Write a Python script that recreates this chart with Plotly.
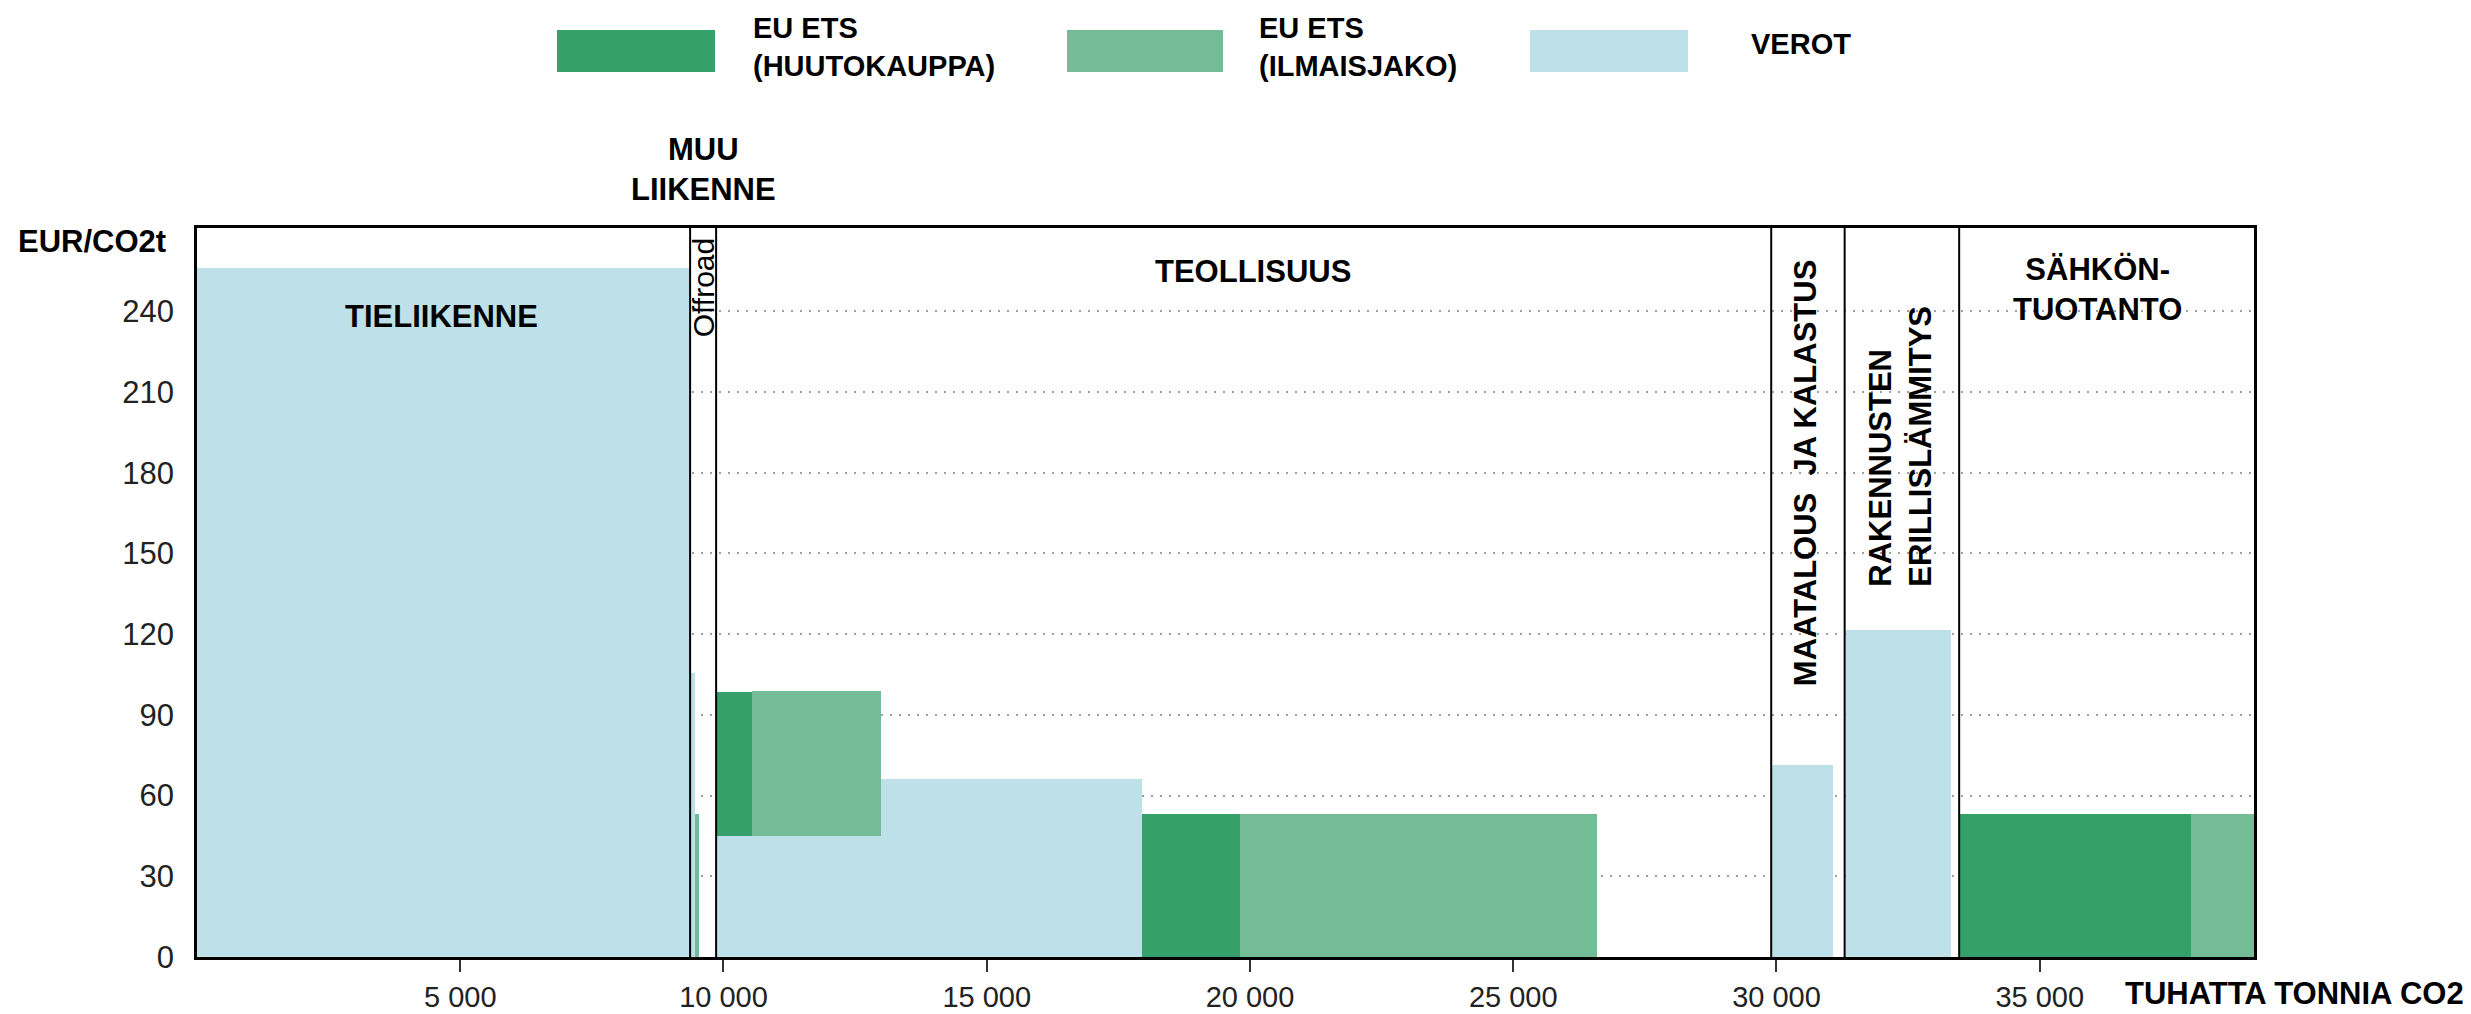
import plotly.graph_objects as go

# Segmentit: alku, loppu (tuhatta t CO2), alaraja, yläraja (EUR/CO2t)
verot_start = [0, 9379, 9860, 12993, 29915, 31320]
verot_end = [9366, 9460, 12993, 17948, 31080, 33320]
verot_base = [0, 0, 0, 0, 0, 0]
verot_top = [256, 105.6, 45, 66, 71.5, 121.5]

huuto_start = [9860, 17948, 33470]
huuto_end = [10543, 19812, 37880]
huuto_base = [45, 0, 0]
huuto_top = [98.5, 53.3, 53.3]

ilmais_start = [9460, 10543, 19812, 37880]
ilmais_end = [9535, 12993, 26584, 39070]
ilmais_base = [0, 45, 0, 0]
ilmais_top = [53.3, 98.8, 53.3, 53.3]

# sektorien rajat
sector_edges = [9366, 9860, 29900, 31295, 33470]

x_tickvals = [5000, 10000, 15000, 20000, 25000, 30000, 35000]
x_ticktext = ["5 000", "10 000", "15 000", "20 000", "25 000", "30 000", "35 000"]
y_tickvals = [0, 30, 60, 90, 120, 150, 180, 210, 240]

C_HUUTO = "#35A06A"
C_ILMAIS = "#73BC95"
C_VEROT = "#BEE0E8"

BOLD = dict(family="Liberation Sans, Arial, sans-serif", size=31, color="black", weight="bold")
LEG = dict(BOLD, size=29)
NARROW = "Liberation Sans Narrow, Arial Narrow, Liberation Sans, sans-serif"

# sivun body-marginaali 8px siirtää kuvaa
OFF = 8
W, H = 2471 - OFF, 1014 - OFF
L, T = 197 - OFF, 228 - OFF
R = W - (2254 - OFF)
B = H - (957 - OFF)


def px(x, y):
    # ikkunan pikselit -> paper-koordinaatit
    x, y = x - OFF, y - OFF
    return (x - L) / (W - L - R), (H - B - y) / (H - T - B)


def bars(start, end, base, top, color, name):
    return go.Bar(
        x=[(s + e) / 2 for s, e in zip(start, end)],
        width=[e - s for s, e in zip(start, end)],
        base=base,
        y=[t - b for t, b in zip(top, base)],
        marker=dict(color=color, line=dict(width=0)),
        name=name,
        showlegend=False,
    )


fig = go.Figure()
fig.add_trace(bars(verot_start, verot_end, verot_base, verot_top, C_VEROT, "VEROT"))
fig.add_trace(bars(huuto_start, huuto_end, huuto_base, huuto_top, C_HUUTO, "EU ETS (HUUTOKAUPPA)"))
fig.add_trace(bars(ilmais_start, ilmais_end, ilmais_base, ilmais_top, C_ILMAIS, "EU ETS (ILMAISJAKO)"))

for xe in sector_edges:
    fig.add_shape(type="line", xref="x", yref="paper", x0=xe, x1=xe, y0=0, y1=1,
                  line=dict(color="black", width=2), layer="above")

# selite
legend_items = [
    (557, 715, C_HUUTO, 752, 47, "EU ETS<br>(HUUTOKAUPPA)"),
    (1067, 1223, C_ILMAIS, 1258, 47, "EU ETS<br>(ILMAISJAKO)"),
    (1530, 1688, C_VEROT, 1750, 44, "VEROT"),
]
for x0, x1, col, tx, ty, txt in legend_items:
    a0, b0 = px(x0, 72)
    a1, b1 = px(x1, 30)
    fig.add_shape(type="rect", xref="paper", yref="paper", x0=a0, x1=a1, y0=b0, y1=b1,
                  fillcolor=col, line=dict(width=0))
    ax, ay = px(tx, ty)
    fig.add_annotation(xref="paper", yref="paper", x=ax, y=ay, text=txt, showarrow=False,
                       xanchor="left", yanchor="middle", align="left", borderpad=0, font=LEG)

# sektorien nimet
fig.add_annotation(x=4640, y=238, text="TIELIIKENNE", showarrow=False, font=BOLD)
fig.add_annotation(x=20050, y=255, text="TEOLLISUUS", showarrow=False, font=BOLD)
fig.add_annotation(x=36100, y=248, text="SÄHKÖN-<br>TUOTANTO", showarrow=False, font=BOLD)
fig.add_annotation(x=30549, y=180, text="MAATALOUS\u00a0 JA KALASTUS", textangle=-90,
                   showarrow=False, font=BOLD)
fig.add_annotation(x=32360, y=137, text="RAKENNUSTEN<br>ERILLISLÄMMITYS", textangle=-90,
                   showarrow=False, yanchor="bottom", align="left", font=BOLD)
fig.add_annotation(x=9613, y=249, text="Offroad", textangle=-90, showarrow=False,
                   font=dict(family="Liberation Sans, Arial, sans-serif", size=30, color="black"))
fig.add_annotation(x=9613, yref="paper", y=px(0, 169)[1], text="MUU<br>LIIKENNE",
                   showarrow=False, yanchor="middle", font=BOLD)

ax, ay = px(16, 241)
fig.add_annotation(xref="paper", yref="paper", x=ax, y=ay, text="EUR/CO2t", showarrow=False,
                   xanchor="left", yanchor="middle", font=BOLD)
ax, ay = px(2466, 993)
fig.add_annotation(xref="paper", yref="paper", x=ax, y=ay, text="TUHATTA TONNIA CO2",
                   showarrow=False, xanchor="right", yanchor="middle", font=BOLD)

fig.update_layout(
    width=W, height=H,
    margin=dict(l=L, r=R, t=T, b=B),
    plot_bgcolor="white", paper_bgcolor="white",
    barmode="overlay", bargap=0,
)
fig.update_xaxes(
    range=[0, 39070], tickvals=x_tickvals, ticktext=x_ticktext,
    ticks="outside", ticklen=12, tickwidth=2, tickcolor="#333",
    tickfont=dict(family=NARROW, size=29, color="#222"),
    showgrid=False, zeroline=False, automargin=False,
    showline=True, linecolor="black", linewidth=3, mirror=True,
)
fig.update_yaxes(
    range=[0, 271], tickvals=y_tickvals,
    ticks="", ticklabelstandoff=14,
    tickfont=dict(family=NARROW, size=31, color="#222"),
    showgrid=True, gridcolor="#a0a0a0", gridwidth=1.5, griddash="2px,7px",
    zeroline=False, automargin=False,
    showline=True, linecolor="black", linewidth=2.5, mirror=True,
)

fig.write_html("out.html")
